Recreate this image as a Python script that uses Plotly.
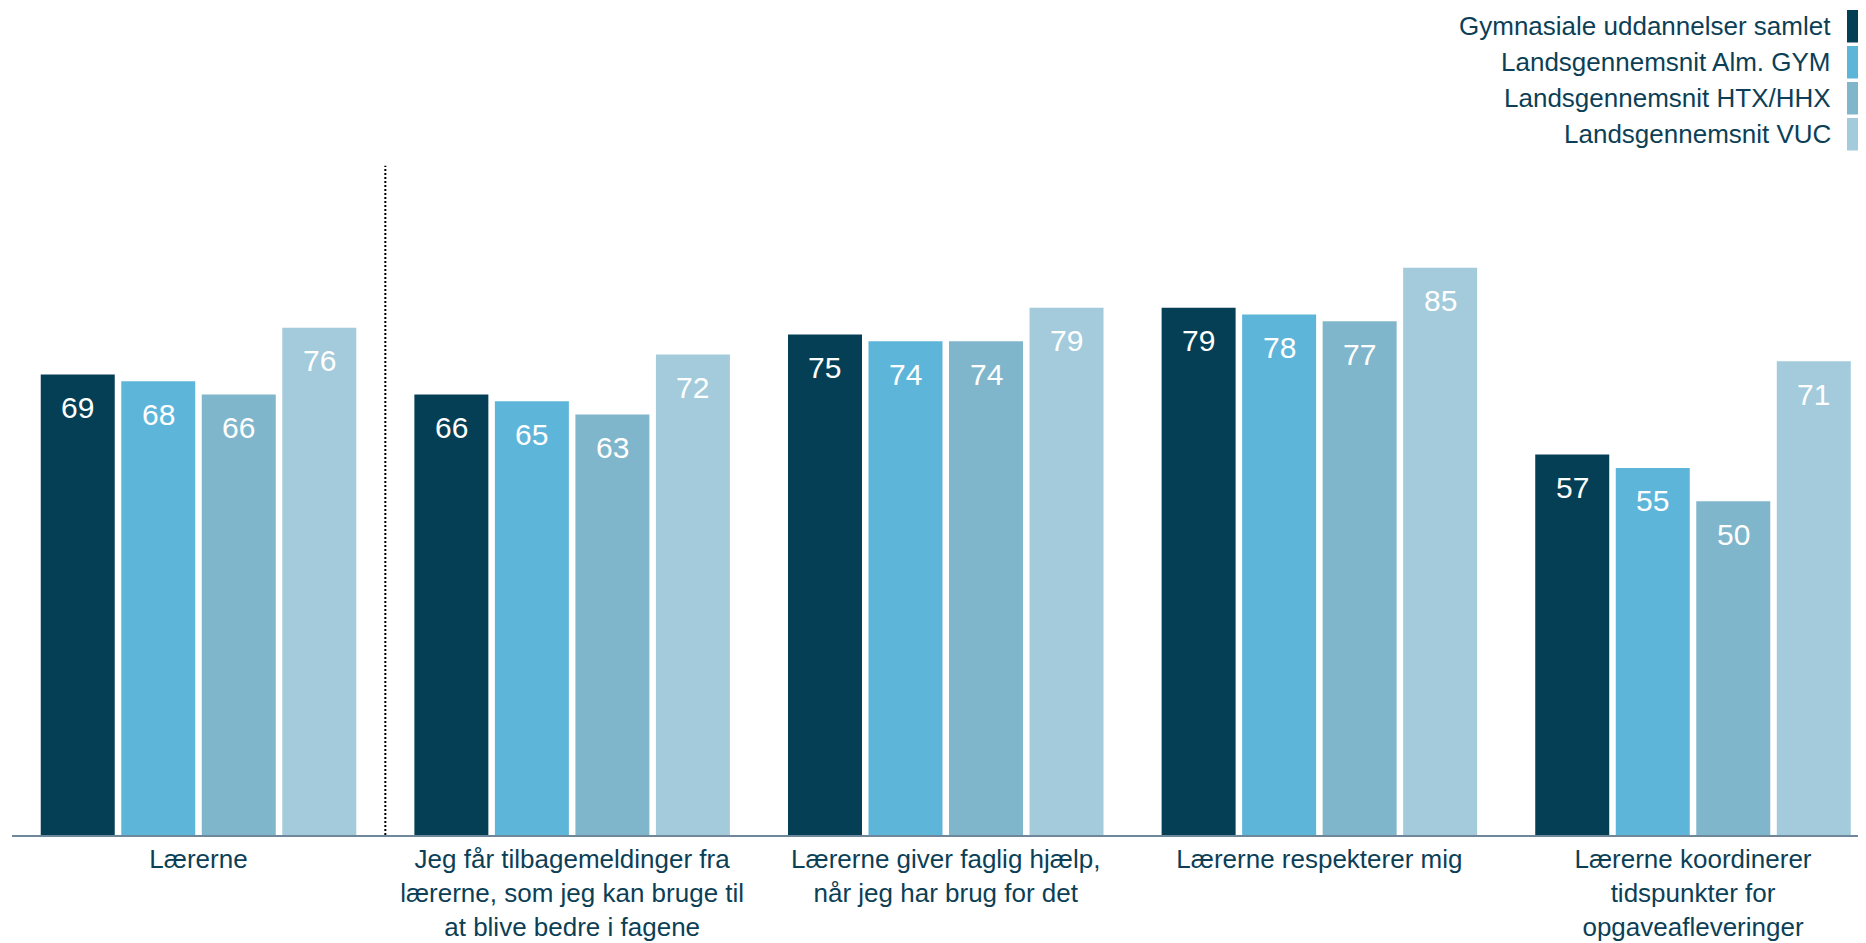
import plotly.graph_objects as go

categories = [
    "Lærerne",
    "Jeg får tilbagemeldinger fra<br>lærerne, som jeg kan bruge til<br>at blive bedre i fagene",
    "Lærerne giver faglig hjælp,<br>når jeg har brug for det",
    "Lærerne respekterer mig",
    "Lærerne koordinerer<br>tidspunkter for<br>opgaveafleveringer",
]
series_names = [
    "Gymnasiale uddannelser samlet",
    "Landsgennemsnit Alm. GYM",
    "Landsgennemsnit HTX/HHX",
    "Landsgennemsnit VUC",
]
samlet = [69, 66, 75, 79, 57]
alm_gym = [68, 65, 74, 78, 55]
htx_hhx = [66, 63, 74, 77, 50]
vuc = [76, 72, 79, 85, 71]
series_values = [samlet, alm_gym, htx_hhx, vuc]
colors = ["#043f56", "#5eb5da", "#80b6cb", "#a3cbdb"]
text_color = "#0c3f56"
FONT = "Liberation Sans, Arial, sans-serif"

# page body has an 8px default margin: figure placed at (8, 8)
OFF = 8
W, H = 1866 - OFF, 943 - OFF
ML, MR, MT, MB = 12 - OFF, 0, 161 - OFF, 108
BARGAP = 0.138
GROUPGAP = 0.081

fig = go.Figure()
for name, vals, col in zip(series_names, series_values, colors):
    fig.add_trace(go.Bar(
        x=categories, y=vals, name=name, marker_color=col,
        marker_line_width=0, showlegend=False, hoverinfo="x+y+name",
    ))

# value labels inside bars, near top
n = len(series_values)
slot = (1 - BARGAP) / n
annotations = []
for i, vals in enumerate(series_values):
    off = (i - (n - 1) / 2) * slot
    for k, v in enumerate(vals):
        annotations.append(dict(
            x=k + off, y=v, xref="x", yref="y", text=str(v), showarrow=False,
            yanchor="middle", xanchor="center", yshift=-33,
            font=dict(family=FONT, size=30, color="white"),
        ))

# manual legend (text left of squares, right aligned); positions in page px
plot_w = W - ML - MR
plot_h = H - MT - MB
def px2x(px):
    return (px - OFF - ML) / plot_w
def py2y(py):
    return (H - MB - (py - OFF)) / plot_h

shapes = []
row_centers = [26.3, 62.3, 98.3, 134.3]
for name, col, cy in zip(series_names, colors, row_centers):
    annotations.append(dict(
        x=px2x(1833), y=py2y(cy), xref="paper", yref="paper", text=name,
        showarrow=False, xanchor="right", yanchor="middle",
        font=dict(family=FONT, size=26, color=text_color),
    ))
    shapes.append(dict(
        type="rect", xref="paper", yref="paper",
        x0=px2x(1847), x1=px2x(1880), y0=py2y(cy + 16.3), y1=py2y(cy - 16.3),
        fillcolor=col, line_width=0,
    ))

# dotted separator between first category and the rest
shapes.append(dict(
    type="line", xref="x", yref="y", x0=0.5, x1=0.5, y0=0, y1=100.3,
    line=dict(color="#000000", width=2, dash="2px,2px"),
))

fig.update_layout(
    width=W, height=H,
    margin=dict(l=ML, r=MR, t=MT, b=MB, pad=0),
    paper_bgcolor="white", plot_bgcolor="white",
    barmode="group", bargap=BARGAP, bargroupgap=GROUPGAP,
    annotations=annotations, shapes=shapes,
    font=dict(family=FONT, size=26, color=text_color),
    showlegend=False,
)
fig.update_xaxes(
    type="category", range=[-0.4992, 4.463],
    showline=True, linecolor="#6e879b", linewidth=2,
    showgrid=False, ticks="", zeroline=False,
    tickfont=dict(family=FONT, size=26, color=text_color),
)
fig.update_yaxes(
    range=[0, 101], visible=False, showgrid=False, zeroline=False,
)

fig.write_html("out.html")
